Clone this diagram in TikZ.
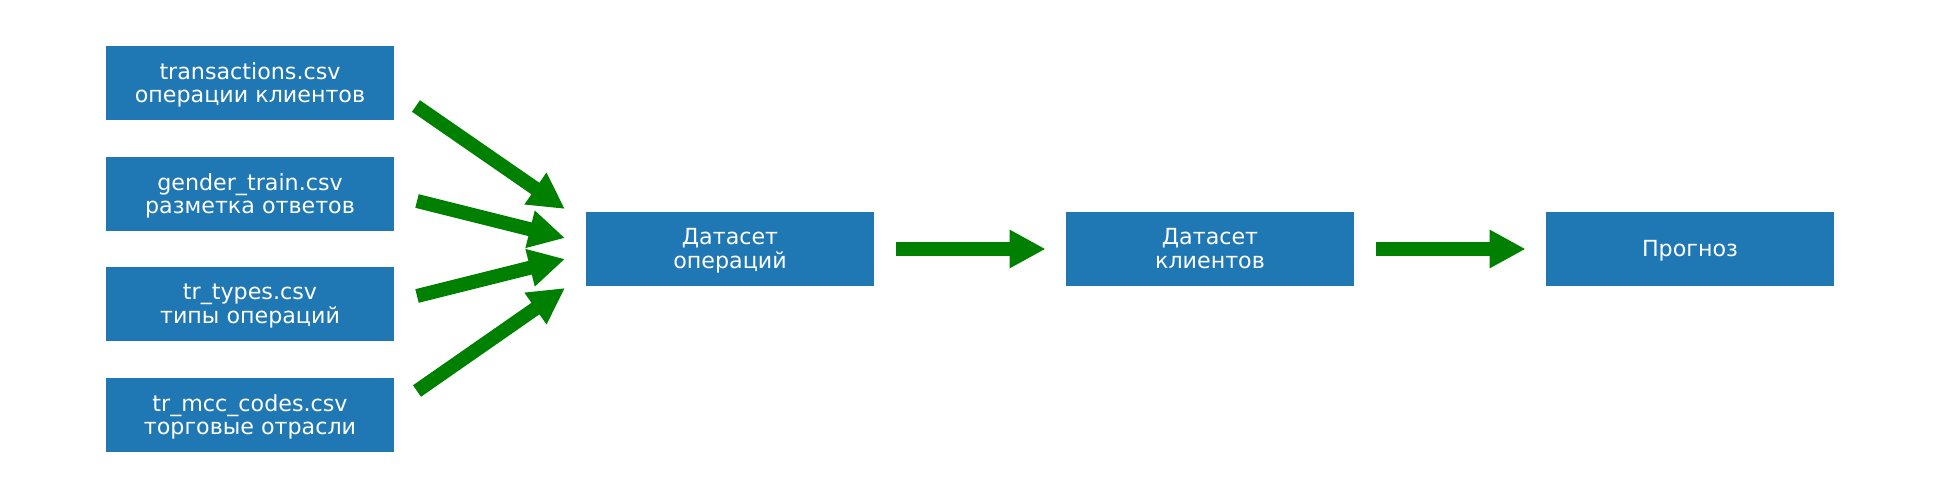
\documentclass[tikz,border=0pt]{standalone}
\usepackage{fontspec}
\setmainfont{DejaVu Sans}
\usetikzlibrary{arrows.meta}
\definecolor{boxblue}{HTML}{1F77B4}
\definecolor{arrgreen}{HTML}{008000}
\newcommand{\boxtext}[1]{\raisebox{-1.5pt}[\height][\depth]{\renewcommand{\arraystretch}{1}\setlength{\tabcolsep}{0pt}\begin{tabular}{c}#1\end{tabular}}}
\begin{document}
\begin{tikzpicture}[x=0.5pt,y=-0.5pt,
  databox/.style={fill=boxblue,draw=none,text=white,minimum width=144pt,minimum height=37pt,
    inner sep=0pt,font=\fontsize{11.1}{11.8}\selectfont},
  fatarrow/.style={draw=arrgreen,line width=7pt,line cap=butt,
    -{Triangle[width=18pt,length=18pt]}}]
\useasboundingbox (0,0) rectangle (1940,499);
\node[databox] (t1) at (250,83) {\boxtext{transactions.csv\\операции клиентов}};
\node[databox] (t2) at (250,194) {\boxtext{gender\_train.csv\\разметка ответов}};
\node[databox] (t3) at (250,304) {\boxtext{tr\_types.csv\\типы операций}};
\node[databox] (t4) at (250,415) {\boxtext{tr\_mcc\_codes.csv\\торговые отрасли}};
\node[databox] (d1) at (730,249) {\boxtext{Датасет\\операций}};
\node[databox] (d2) at (1210,249) {\boxtext{Датасет\\клиентов}};
\node[databox] (p) at (1690,249) {\boxtext{Прогноз}};
\coordinate (a1s) at (416,106); \coordinate (a1e) at (565,209);
\coordinate (a2s) at (417,201); \coordinate (a2e) at (565,238);
\coordinate (a3s) at (417,296); \coordinate (a3e) at (565,259);
\coordinate (a4s) at (417,391); \coordinate (a4e) at (565,288);
\draw[fatarrow] (a1s) -- (a1e);
\draw[fatarrow] (a2s) -- (a2e);
\draw[fatarrow] (a3s) -- (a3e);
\draw[fatarrow] (a4s) -- (a4e);
\draw[fatarrow] ([xshift=11pt]d1.east) -- ([xshift=-10pt]d2.west);
\draw[fatarrow] ([xshift=11pt]d2.east) -- ([xshift=-10pt]p.west);
\end{tikzpicture}
\end{document}
